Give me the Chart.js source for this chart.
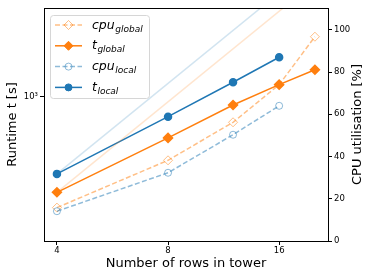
<!DOCTYPE html>
<html>
<head>
<meta charset="utf-8">
<script src="https://cdn.jsdelivr.net/npm/chart.js@4.4.1/dist/chart.umd.min.js"></script>
<style>
  html, body { margin: 0; padding: 0; background: #fff; }
  #wrap { width: 374px; height: 280px; }
</style>
</head>
<body>
<div id="wrap"><canvas id="chart" width="374" height="280"></canvas></div>
<script>
const rows = [4, 8, 12, 16, 20];
const tLocal = [555, 860, 1119, 1355];
const tGlobal = [482, 731, 940, 1099, 1232];
const cpuGlobal = [15.8, 38.2, 56.2, 74.0, 96.7];
const cpuLocal = [14.1, 32.3, 50.3, 64.0];
const idealRows = [4, 22];
const idealLocal = [555, 3050];
const idealGlobal = [482, 2650];
const rowTicks = [4, 8, 16];
const timeTicks = [1000];
const cpuTicks = [0, 20, 40, 60, 80, 100];

const BLUE = '#1f77b4';
const ORANGE = '#ff7f0e';
const FONT = "'DejaVu Sans', sans-serif";

const pts = (xs, ys) => ys.map((y, i) => ({ x: xs[i], y: y }));

const legendItems = [
  { main: 'cpu', sub: 'global', color: 'rgba(255,127,14,0.5)', dash: [5, 2.5], marker: 'diamond', fill: false },
  { main: 't', sub: 'global', color: ORANGE, dash: [], marker: 'diamond', fill: true },
  { main: 'cpu', sub: 'local', color: 'rgba(31,119,180,0.5)', dash: [5, 2.5], marker: 'circle', fill: false },
  { main: 't', sub: 'local', color: BLUE, dash: [], marker: 'circle', fill: true }
];

function drawMarker(ctx, type, x, y, color, fill) {
  ctx.beginPath();
  if (type === 'circle') {
    ctx.arc(x, y, 3.5, 0, Math.PI * 2);
  } else {
    ctx.moveTo(x, y - 4.5); ctx.lineTo(x + 4.5, y); ctx.lineTo(x, y + 4.5); ctx.lineTo(x - 4.5, y); ctx.closePath();
  }
  if (fill) { ctx.fillStyle = color; ctx.fill(); }
  ctx.setLineDash([]);
  ctx.lineWidth = 1;
  ctx.strokeStyle = color;
  ctx.stroke();
}

const extras = {
  id: 'extras',
  afterDraw(chart) {
    const ctx = chart.ctx;
    const a = chart.chartArea;
    ctx.save();
    // top spine
    ctx.strokeStyle = '#000';
    ctx.lineWidth = 1;
    ctx.beginPath();
    ctx.moveTo(a.left, a.top + 0.5);
    ctx.lineTo(a.right, a.top + 0.5);
    ctx.stroke();

    // right axis title, reads bottom to top
    ctx.save();
    ctx.translate(358, (a.top + a.bottom) / 2);
    ctx.rotate(-Math.PI / 2);
    ctx.fillStyle = '#000';
    ctx.font = '13px ' + FONT;
    ctx.textAlign = 'center';
    ctx.textBaseline = 'middle';
    ctx.fillText('CPU utilisation [%]', 0, 0);
    ctx.restore();

    // legend
    ctx.beginPath();
    ctx.roundRect(50.5, 15.5, 99, 83, 3);
    ctx.fillStyle = 'rgba(255,255,255,0.8)';
    ctx.fill();
    ctx.strokeStyle = '#d6d6d6';
    ctx.lineWidth = 1;
    ctx.stroke();
    legendItems.forEach((it, i) => {
      const y = 25 + i * 20.8;
      ctx.beginPath();
      ctx.setLineDash(it.dash);
      ctx.strokeStyle = it.color;
      ctx.lineWidth = 1.5;
      ctx.moveTo(55, y);
      ctx.lineTo(82, y);
      ctx.stroke();
      drawMarker(ctx, it.marker, 68.5, y, it.color, it.fill);
      ctx.fillStyle = '#000';
      ctx.textAlign = 'left';
      ctx.textBaseline = 'alphabetic';
      ctx.font = 'italic 12.5px ' + FONT;
      ctx.fillText(it.main, 92, y + 3.5);
      const w = ctx.measureText(it.main).width;
      ctx.font = 'italic 9px ' + FONT;
      ctx.fillText(it.sub, 92 + w + 0.5, y + 6.5);
    });
    ctx.restore();
  }
};

new Chart(document.getElementById('chart').getContext('2d'), {
  type: 'line',
  data: {
    datasets: [
      { data: pts(idealRows, idealLocal), yAxisID: 'y', borderColor: 'rgba(31,119,180,0.2)', borderWidth: 1.5, pointRadius: 0 },
      { data: pts(idealRows, idealGlobal), yAxisID: 'y', borderColor: 'rgba(255,127,14,0.2)', borderWidth: 1.5, pointRadius: 0 },
      { data: pts(rows, cpuLocal), yAxisID: 'y1', borderColor: 'rgba(31,119,180,0.5)', borderWidth: 1.5, borderDash: [5, 2.5],
        pointStyle: 'circle', pointRadius: 3.5, pointBorderWidth: 1, pointBackgroundColor: 'rgba(0,0,0,0)', pointBorderColor: 'rgba(31,119,180,0.5)' },
      { data: pts(rows, cpuGlobal), yAxisID: 'y1', borderColor: 'rgba(255,127,14,0.5)', borderWidth: 1.5, borderDash: [5, 2.5],
        pointStyle: 'rectRot', pointRadius: 4.5, pointBorderWidth: 1, pointBackgroundColor: 'rgba(0,0,0,0)', pointBorderColor: 'rgba(255,127,14,0.5)' },
      { data: pts(rows, tGlobal), yAxisID: 'y', borderColor: ORANGE, borderWidth: 1.5,
        pointStyle: 'rectRot', pointRadius: 4.5, pointBackgroundColor: ORANGE, pointBorderColor: ORANGE },
      { data: pts(rows, tLocal), yAxisID: 'y', borderColor: BLUE, borderWidth: 1.5,
        pointStyle: 'circle', pointRadius: 3.5, pointBackgroundColor: BLUE, pointBorderColor: BLUE }
    ]
  },
  options: {
    responsive: false,
    devicePixelRatio: 1,
    animation: false,
    layout: { padding: { top: 8, left: 0, right: 0, bottom: 0 } },
    plugins: { legend: { display: false }, tooltip: { enabled: false } },
    scales: {
      x: {
        type: 'logarithmic',
        min: 3.69,
        max: 21.7,
        afterBuildTicks: s => { s.ticks = rowTicks.map(v => ({ value: v })); },
        afterFit: s => { s.height = 39; },
        ticks: { color: '#000', font: { family: FONT, size: 8.5 }, padding: 1, maxRotation: 0, autoSkip: false, callback: v => String(v) },
        grid: { drawOnChartArea: false, tickLength: 4, color: '#000' },
        border: { color: '#000', width: 1 },
        title: { display: true, text: 'Number of rows in tower', color: '#000', font: { family: FONT, size: 13 }, padding: { top: 0, bottom: 9 } }
      },
      y: {
        type: 'logarithmic',
        position: 'left',
        min: 332,
        max: 1976,
        afterBuildTicks: s => { s.ticks = timeTicks.map(v => ({ value: v })); },
        afterFit: s => { s.width = 44; },
        ticks: { color: '#000', font: { family: FONT, size: 8.5 }, padding: 2, autoSkip: false, callback: () => '10³' },
        grid: { drawOnChartArea: false, tickLength: 4, color: '#000' },
        border: { color: '#000', width: 1 },
        title: { display: true, text: 'Runtime t [s]', color: '#000', font: { family: FONT, size: 13 }, padding: { top: 5, bottom: 0 } }
      },
      y1: {
        type: 'linear',
        position: 'right',
        min: 0,
        max: 110.3,
        afterBuildTicks: s => { s.ticks = cpuTicks.map(v => ({ value: v })); },
        afterFit: s => { s.width = 46; },
        ticks: { color: '#000', font: { family: FONT, size: 8.5 }, padding: 2, autoSkip: false },
        grid: { drawOnChartArea: false, tickLength: 4, color: '#000' },
        border: { color: '#000', width: 1 }
      }
    }
  },
  plugins: [extras]
});
</script>
</body>
</html>
